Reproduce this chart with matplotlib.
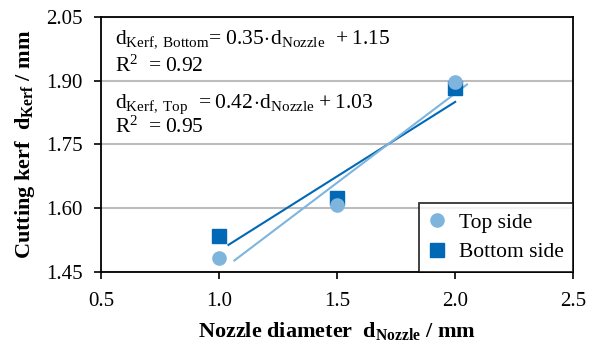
import matplotlib.pyplot as plt
import numpy as np

plt.rcParams['font.family'] = ['Liberation Serif', 'DejaVu Serif']
plt.rcParams['mathtext.fontset'] = 'custom'
plt.rcParams['mathtext.rm'] = 'Liberation Serif'
plt.rcParams['mathtext.bf'] = 'Liberation Serif:bold'

# measured kerf widths
nozzle = [1.0, 1.5, 2.0]
kerf_top = [1.482, 1.608, 1.897]
kerf_bottom = [1.535, 1.625, 1.882]

# linear fits: slope, intercept, R^2
fit_bottom = [0.35, 1.15, 0.92]
fit_top = [0.42, 1.03, 0.95]
span_bottom = [1.04, 2.0]
span_top = [1.065, 2.05]

light = '#7fb5dd'
dark = '#0068b4'

fig = plt.figure(figsize=(5.94, 3.58), dpi=100)
ax = fig.add_axes([0.170, 0.240, 0.795, 0.713])

ax.set_xlim(0.5, 2.5)
ax.set_ylim(1.45, 2.05)
ax.set_xticks([0.5, 1.0, 1.5, 2.0, 2.5])
ax.set_yticks([1.45, 1.60, 1.75, 1.90, 2.05])
ax.set_xticklabels(['0.5', '1.0', '1.5', '2.0', '2.5'])
ax.set_yticklabels(['1.45', '1.60', '1.75', '1.90', '2.05'])
ax.tick_params(labelsize=15, direction='out', length=5, width=1.2, color='black')
ax.tick_params(axis='y', pad=8)
ax.tick_params(axis='x', pad=9)
ax.grid(axis='y', color='#bdbdbd', linewidth=1.5)
ax.set_axisbelow(True)
for s in ax.spines.values():
    s.set_linewidth(1.3)
    s.set_color('black')

# trend lines from the fitted equations
xb = np.array(span_bottom)
xt = np.array(span_top)
ax.plot(xb, fit_bottom[0] * xb + fit_bottom[1], color=dark, lw=1.5, zorder=3)
ax.plot(xt, fit_top[0] * xt + fit_top[1], color=light, lw=1.5, zorder=3)

hb, = ax.plot(nozzle, kerf_bottom, 's', color=dark, ms=9.5, zorder=4, label='Bottom side')
ht, = ax.plot(nozzle, kerf_top, 'o', color=light, ms=9.5, zorder=5, label='Top side')

leg = ax.legend(handles=[ht, hb], loc='lower right', fontsize=15.5, frameon=True,
                fancybox=False, borderaxespad=0, handlelength=0.8,
                handletextpad=0.6, borderpad=0.45, labelspacing=0.45)
leg.get_frame().set_edgecolor('black')
leg.get_frame().set_linewidth(1.3)

ax.text(0.56, 1.989, r'$\mathrm{d_{Kerf,\,Bottom}\!=0.%02d\!\cdot\!d_{Nozzle}\ +%.2f}$' % (round(fit_bottom[0] * 100), fit_bottom[1]),
        fontsize=15.5, va='baseline')
ax.text(0.56, 1.92, r'$\mathrm{R^2\ = %.2f}$' % fit_bottom[2], fontsize=15.5, va='baseline')
ax.text(0.56, 1.836, r'$\mathrm{d_{Kerf,\,Top}\ = 0.%02d\!\cdot\!d_{Nozzle}+%.2f}$' % (round(fit_top[0] * 100), fit_top[1]),
        fontsize=15.5, va='baseline')
ax.text(0.56, 1.777, r'$\mathrm{R^2\ = %.2f}$' % fit_top[2], fontsize=15.5, va='baseline')

ax.set_xlabel(r'Nozzle diameter  $\mathbf{d_{Nozzle}}$ / mm', fontsize=16, fontweight='bold', labelpad=7)
ax.set_ylabel(r'Cutting kerf  $\mathbf{d_{Kerf}}$ / mm', fontsize=16, fontweight='bold', labelpad=7)

fig.savefig('out.png', dpi=100)
